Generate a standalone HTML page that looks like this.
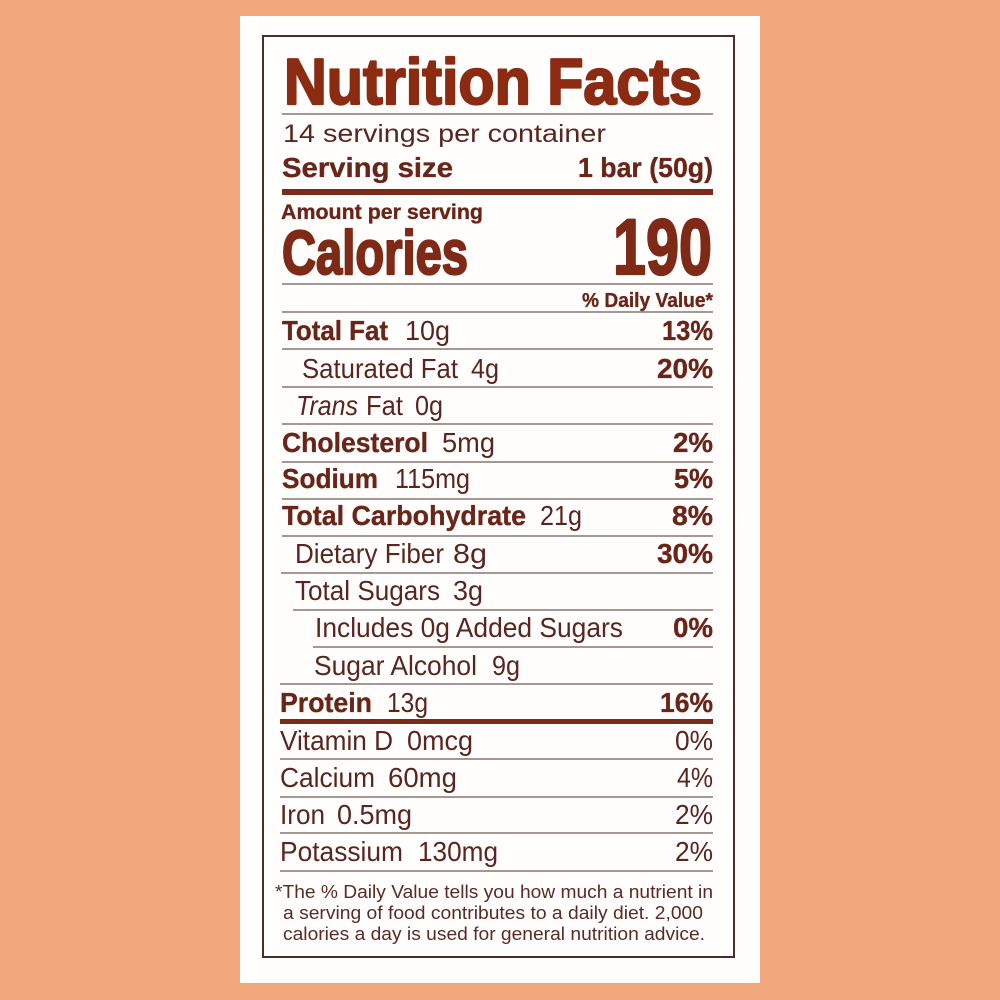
<!DOCTYPE html>
<html><head><meta charset="utf-8"><style>
html,body{margin:0;padding:0;background:#f1a87c;}
svg{display:block;}
text{font-family:"Liberation Sans",Arial,sans-serif;}
.b{font-weight:bold;fill:#6a2519;stroke:#6a2519;stroke-width:0.35;}
.r{fill:#5a2520;}
.t{font-weight:bold;fill:#8a2b12;stroke:#8a2b12;stroke-width:2.2;stroke-linejoin:round;}
.f{fill:#5a2a24;}
</style></head><body>
<svg width="1000" height="1000" viewBox="0 0 1000 1000" xmlns="http://www.w3.org/2000/svg">
<rect x="0" y="0" width="1000" height="1000" fill="#f1a87c"/>
<rect x="240" y="16" width="520" height="967" fill="#fffefd"/>
<rect x="263" y="36" width="471" height="921" fill="none" stroke="#4e2c26" stroke-width="2"/>

<g stroke="#857773" stroke-width="1.6">
<line x1="282" y1="114" x2="713" y2="114"/>
<line x1="282" y1="284" x2="713" y2="284"/>
<line x1="282" y1="312" x2="713" y2="312"/>
<line x1="282" y1="349" x2="713" y2="349"/>
<line x1="282" y1="387" x2="713" y2="387"/>
<line x1="282" y1="424" x2="713" y2="424"/>
<line x1="282" y1="462" x2="713" y2="462"/>
<line x1="282" y1="499" x2="713" y2="499"/>
<line x1="282" y1="536" x2="713" y2="536"/>
<line x1="281" y1="573" x2="713" y2="573"/>
<line x1="293" y1="610" x2="713" y2="610"/>
<line x1="313" y1="647" x2="713" y2="647"/>
<line x1="280" y1="684" x2="713" y2="684"/>
<line x1="280" y1="759" x2="713" y2="759"/>
<line x1="280" y1="797" x2="713" y2="797"/>
<line x1="280" y1="833" x2="713" y2="833"/>
<line x1="280" y1="871" x2="713" y2="871"/>
</g>
<rect x="282" y="189" width="431" height="6" fill="#7a2c1c"/>
<rect x="280" y="719" width="433" height="5" fill="#7a2c1c"/>

<text class="t" x="284" y="104" font-size="65" textLength="418" lengthAdjust="spacingAndGlyphs">Nutrition Facts</text>
<text class="r" x="283" y="142" font-size="25" textLength="323" lengthAdjust="spacingAndGlyphs">14 servings per container</text>
<text class="b" x="282" y="177" font-size="28" textLength="171" lengthAdjust="spacingAndGlyphs">Serving size</text>
<text class="b" x="578" y="177" font-size="28" textLength="135" lengthAdjust="spacingAndGlyphs">1 bar (50g)</text>

<text class="b" x="281" y="219" font-size="21" textLength="202" lengthAdjust="spacingAndGlyphs">Amount per serving</text>
<text class="t" x="282" y="274" font-size="62" textLength="186" lengthAdjust="spacingAndGlyphs" style="fill:#7e2a16;stroke:#7e2a16">Calories</text>
<text class="t" x="613" y="274" font-size="79" textLength="99" lengthAdjust="spacingAndGlyphs" style="fill:#7e2a16;stroke:#7e2a16">190</text>

<text class="b" x="582" y="307" font-size="20" textLength="131" lengthAdjust="spacingAndGlyphs">% Daily Value*</text>

<text class="b" x="282" y="340" font-size="28" textLength="106" lengthAdjust="spacingAndGlyphs">Total Fat</text>
<text class="r" x="405" y="340" font-size="28" textLength="45" lengthAdjust="spacingAndGlyphs">10g</text>
<text class="b" x="662" y="340" font-size="28" textLength="51" lengthAdjust="spacingAndGlyphs">13%</text>

<text class="r" x="302" y="378" font-size="28" textLength="156" lengthAdjust="spacingAndGlyphs">Saturated Fat</text>
<text class="r" x="471" y="378" font-size="28" textLength="28" lengthAdjust="spacingAndGlyphs">4g</text>
<text class="b" x="657" y="378" font-size="28" textLength="56" lengthAdjust="spacingAndGlyphs">20%</text>

<text class="r" x="296" y="415" font-size="28" font-style="italic" textLength="62" lengthAdjust="spacingAndGlyphs">Trans</text>
<text class="r" x="366" y="415" font-size="28" textLength="37" lengthAdjust="spacingAndGlyphs">Fat</text>
<text class="r" x="415" y="415" font-size="28" textLength="28" lengthAdjust="spacingAndGlyphs">0g</text>

<text class="b" x="282" y="452" font-size="28" textLength="146" lengthAdjust="spacingAndGlyphs">Cholesterol</text>
<text class="r" x="442" y="452" font-size="28" textLength="53" lengthAdjust="spacingAndGlyphs">5mg</text>
<text class="b" x="673" y="452" font-size="28" textLength="40" lengthAdjust="spacingAndGlyphs">2%</text>

<text class="b" x="282" y="488" font-size="28" textLength="96" lengthAdjust="spacingAndGlyphs">Sodium</text>
<text class="r" x="395" y="488" font-size="28" textLength="75" lengthAdjust="spacingAndGlyphs">115mg</text>
<text class="b" x="674" y="488" font-size="28" textLength="39" lengthAdjust="spacingAndGlyphs">5%</text>

<text class="b" x="282" y="525" font-size="28" textLength="244" lengthAdjust="spacingAndGlyphs">Total Carbohydrate</text>
<text class="r" x="540" y="525" font-size="28" textLength="42" lengthAdjust="spacingAndGlyphs">21g</text>
<text class="b" x="672" y="525" font-size="28" textLength="41" lengthAdjust="spacingAndGlyphs">8%</text>

<text class="r" x="295" y="563" font-size="28" textLength="149" lengthAdjust="spacingAndGlyphs">Dietary Fiber</text>
<text class="r" x="453" y="563" font-size="28" textLength="34" lengthAdjust="spacingAndGlyphs">8g</text>
<text class="b" x="657" y="563" font-size="28" textLength="56" lengthAdjust="spacingAndGlyphs">30%</text>

<text class="r" x="295" y="600" font-size="28" textLength="145" lengthAdjust="spacingAndGlyphs">Total Sugars</text>
<text class="r" x="453" y="600" font-size="28" textLength="30" lengthAdjust="spacingAndGlyphs">3g</text>

<text class="r" x="315" y="637" font-size="28" textLength="308" lengthAdjust="spacingAndGlyphs">Includes 0g Added Sugars</text>
<text class="b" x="673" y="637" font-size="28" textLength="40" lengthAdjust="spacingAndGlyphs">0%</text>

<text class="r" x="314" y="675" font-size="28" textLength="163" lengthAdjust="spacingAndGlyphs">Sugar Alcohol</text>
<text class="r" x="492" y="675" font-size="28" textLength="28" lengthAdjust="spacingAndGlyphs">9g</text>

<text class="b" x="280" y="712" font-size="28" textLength="92" lengthAdjust="spacingAndGlyphs">Protein</text>
<text class="r" x="387" y="712" font-size="28" textLength="41" lengthAdjust="spacingAndGlyphs">13g</text>
<text class="b" x="660" y="712" font-size="28" textLength="53" lengthAdjust="spacingAndGlyphs">16%</text>

<text class="r" x="280" y="750" font-size="28" textLength="113" lengthAdjust="spacingAndGlyphs">Vitamin D</text>
<text class="r" x="407" y="750" font-size="28" textLength="66" lengthAdjust="spacingAndGlyphs">0mcg</text>
<text class="r" x="675" y="750" font-size="28" textLength="38" lengthAdjust="spacingAndGlyphs">0%</text>

<text class="r" x="280" y="787" font-size="28" textLength="95" lengthAdjust="spacingAndGlyphs">Calcium</text>
<text class="r" x="388" y="787" font-size="28" textLength="69" lengthAdjust="spacingAndGlyphs">60mg</text>
<text class="r" x="677" y="787" font-size="28" textLength="36" lengthAdjust="spacingAndGlyphs">4%</text>

<text class="r" x="280" y="824" font-size="28" textLength="45" lengthAdjust="spacingAndGlyphs">Iron</text>
<text class="r" x="337" y="824" font-size="28" textLength="75" lengthAdjust="spacingAndGlyphs">0.5mg</text>
<text class="r" x="675" y="824" font-size="28" textLength="38" lengthAdjust="spacingAndGlyphs">2%</text>

<text class="r" x="280" y="861" font-size="28" textLength="123" lengthAdjust="spacingAndGlyphs">Potassium</text>
<text class="r" x="418" y="861" font-size="28" textLength="80" lengthAdjust="spacingAndGlyphs">130mg</text>
<text class="r" x="675" y="861" font-size="28" textLength="38" lengthAdjust="spacingAndGlyphs">2%</text>

<text class="f" x="275" y="898" font-size="18" textLength="438" lengthAdjust="spacingAndGlyphs">*The % Daily Value tells you how much a nutrient in</text>
<text class="f" x="283" y="919" font-size="18" textLength="420" lengthAdjust="spacingAndGlyphs">a serving of food contributes to a daily diet. 2,000</text>
<text class="f" x="283" y="940" font-size="18" textLength="422" lengthAdjust="spacingAndGlyphs">calories a day is used for general nutrition advice.</text>
</svg>
</body></html>
